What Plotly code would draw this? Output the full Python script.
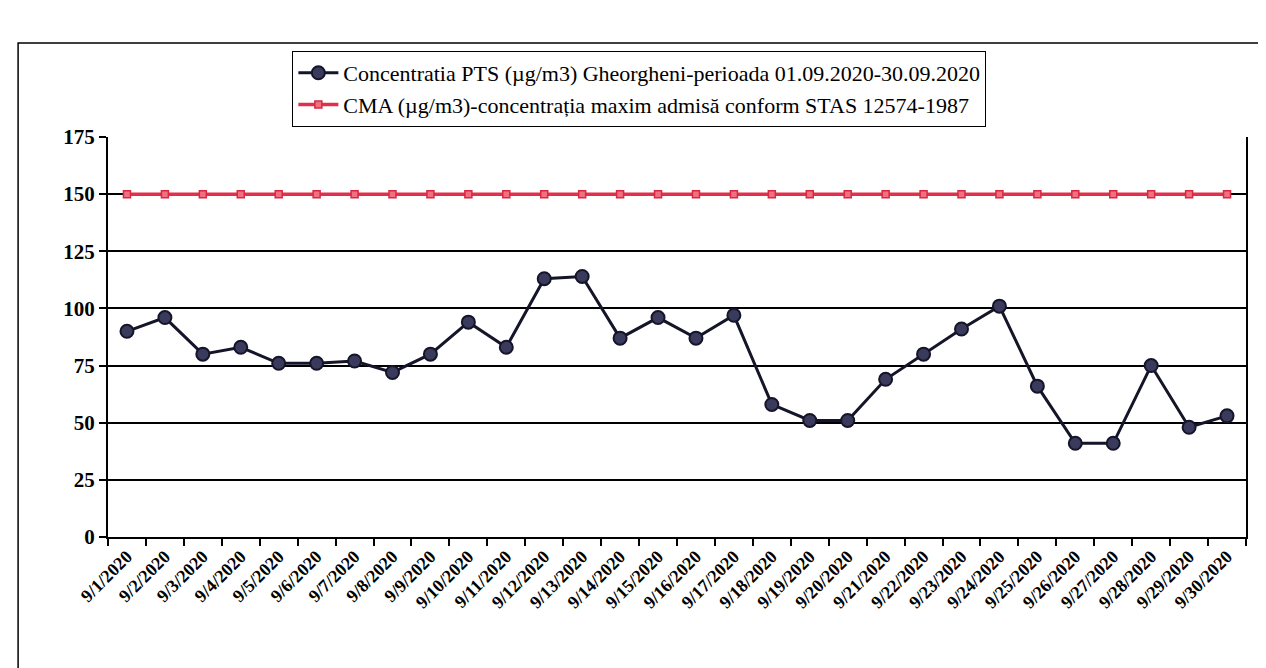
import plotly.graph_objects as go

dates = [f"9/{d}/2020" for d in range(1, 31)]
pts = [90, 96, 80, 83, 76, 76, 77, 72, 80, 94, 83, 113, 114, 87, 96,
       87, 97, 58, 51, 51, 69, 80, 91, 101, 66, 41, 41, 75, 48, 53]
cma = [150] * 30

name_pts = "Concentratia PTS (µg/m3) Gheorgheni-perioada 01.09.2020-30.09.2020"
name_cma = "CMA (µg/m3)-concentrația maxim admisă conform STAS 12574-1987"

fig = go.Figure()
fig.add_trace(go.Scatter(
    x=dates, y=pts, name=name_pts, mode="lines+markers",
    line=dict(color="#15152a", width=3),
    marker=dict(symbol="circle", size=13, color="#3a3a5c", line=dict(color="#15152a", width=2)),
))
fig.add_trace(go.Scatter(
    x=dates, y=cma, name=name_cma, mode="lines+markers",
    line=dict(color="#e0304c", width=3.5),
    marker=dict(symbol="square", size=7, color="#f07080", line=dict(color="#d82844", width=1.5)),
))

fig.update_layout(
    width=1266, height=668,
    margin=dict(l=100, r=28, t=129, b=139),
    paper_bgcolor="white", plot_bgcolor="white",
    font=dict(family="Liberation Serif", color="black"),
    showlegend=True,
    legend=dict(
        x=0.162, y=1.215, xanchor="left", yanchor="top",
        bgcolor="white", bordercolor="black", borderwidth=1,
        font=dict(family="Liberation Serif", size=22, color="black"),
        tracegroupgap=0, itemwidth=40,
    ),
    xaxis=dict(
        type="category", range=[-0.5, 29.5], tickangle=-45, tickson="boundaries",
        ticks="outside", ticklen=7, tickcolor="black", tickwidth=1.5,
        showline=True, linecolor="black", linewidth=2,
        showgrid=False, automargin=False,
        tickfont=dict(family="Liberation Serif", size=18, color="black", weight="bold"),
    ),
    yaxis=dict(
        range=[0, 175], dtick=25, tick0=0,
        ticks="outside", ticklen=7, tickcolor="black", tickwidth=1.5,
        showline=True, linecolor="black", linewidth=2, mirror=True,
        showgrid=True, gridcolor="black", gridwidth=1.5,
        zeroline=False, automargin=False,
        tickfont=dict(family="Liberation Serif", size=21, color="black", weight="bold"),
    ),
    shapes=[dict(
        type="rect", xref="paper", yref="paper",
        x0=-0.079, x1=1.0176, y0=-0.34, y1=1.235,
        line=dict(color="black", width=1.5), fillcolor="rgba(0,0,0,0)",
    )],
)

fig.write_html("out.html")
